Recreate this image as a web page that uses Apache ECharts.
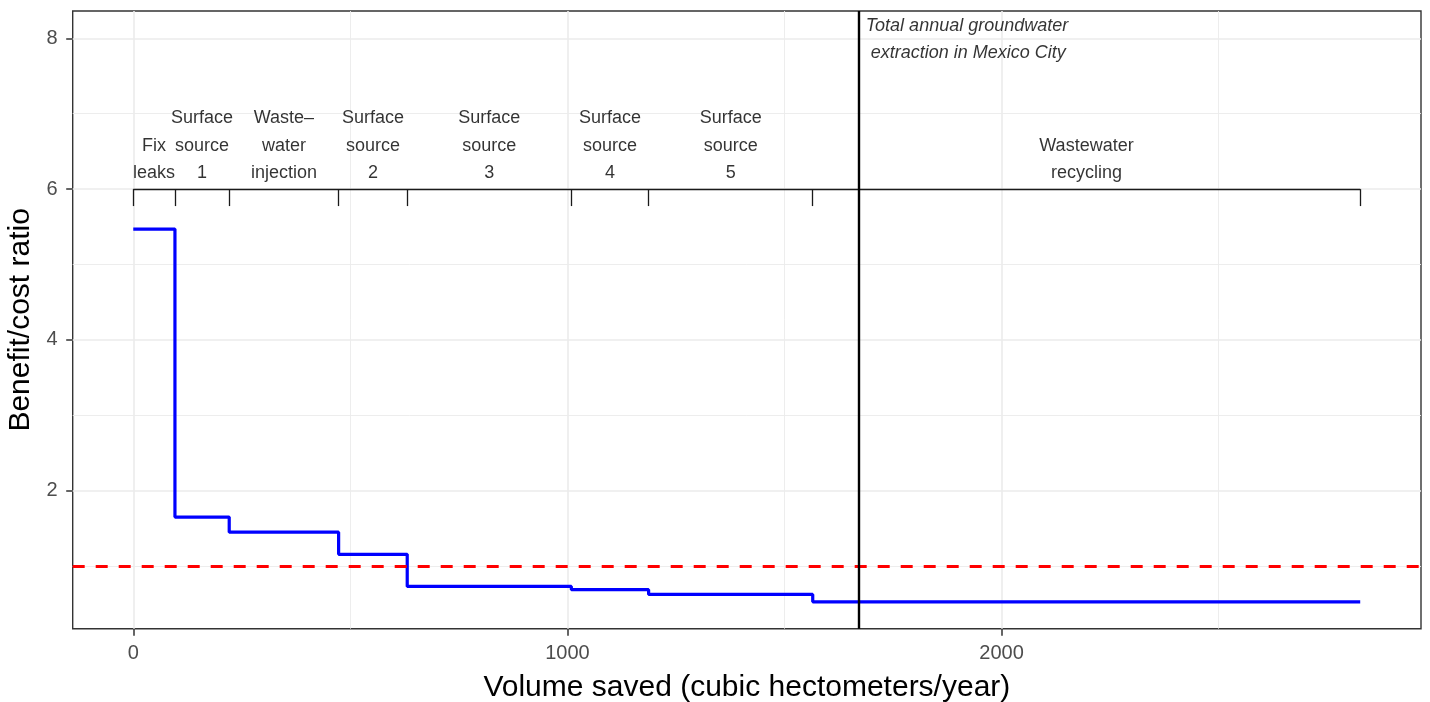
<!DOCTYPE html>
<html>
<head>
<meta charset="utf-8">
<script src="https://cdn.jsdelivr.net/npm/echarts@6/dist/echarts.min.js"></script>
<style>
html,body{margin:0;padding:0;background:#fff;}
#chart{width:1430px;height:702px;}
</style>
</head>
<body>
<div id="chart"></div>
<script>
// ---- data ----
var breaks = [0, 96, 221, 473, 631, 1009, 1187, 1565, 2826];
var ratios = [5.47, 1.65, 1.45, 1.156, 0.73, 0.687, 0.625, 0.527];
var segmentLabels = [
  "Fix\nleaks",
  "Surface\nsource\n1",
  "Waste\u2013\nwater\ninjection",
  "Surface\nsource\n2",
  "Surface\nsource\n3",
  "Surface\nsource\n4",
  "Surface\nsource\n5",
  "Wastewater\nrecycling"
];
var breakEven = 1;
var extractionVolume = 1671;
var extractionLabel = "Total annual groundwater\n extraction in Mexico City";
var bracketLevel = 6;
var bracketTickEnd = 5.775;
var xTicks = [0, 1000, 2000];
var xMinor = [500, 1500, 2500];
var yTicks = [2, 4, 6, 8];
var yMinor = [1, 3, 5, 7];
var xRange = [-139.5, 2966];
var yRange = [0.17, 8.362];

// ---- derived series data ----
var stepData = [];
for (var i = 0; i < ratios.length; i++) stepData.push([breaks[i], ratios[i]]);
stepData.push([breaks[breaks.length - 1], ratios[ratios.length - 1]]);

var labelData = [];
for (var j = 0; j < segmentLabels.length; j++) {
  labelData.push([(breaks[j] + breaks[j + 1]) / 2, bracketLevel, segmentLabels[j]]);
}

var bracketLines = [[{coord: [breaks[0], bracketLevel]}, {coord: [breaks[breaks.length - 1], bracketLevel]}]];
breaks.forEach(function (b) {
  bracketLines.push([{coord: [b, bracketLevel]}, {coord: [b, bracketTickEnd]}]);
});

var FONT = '"Liberation Sans", Arial, Helvetica, sans-serif';
function gridLines(vals, axis, width) {
  return vals.map(function (v) { var o = {}; o[axis] = v; o.lineStyle = {width: width}; return o; });
}

var chart = echarts.init(document.getElementById('chart'), null, {renderer: 'canvas'});
chart.setOption({
  animation: false,
  backgroundColor: '#ffffff',
  grid: {left: 72.7, right: 9, top: 11, bottom: 73.3, show: true, borderColor: '#333333', borderWidth: 1.4,
    backgroundColor: 'transparent', containLabel: false, outerBoundsMode: 'none'},
  xAxis: {
    type: 'value', min: xRange[0], max: xRange[1],
    name: 'Volume saved (cubic hectometers/year)', nameLocation: 'middle', nameGap: 44,
    nameTextStyle: {fontFamily: FONT, fontSize: 30, color: '#000'},
    axisLine: {show: false, onZero: false},
    axisTick: {show: true, length: 7, lineStyle: {color: '#333', width: 1.5}, customValues: xTicks},
    axisLabel: {fontFamily: FONT, fontSize: 20, color: '#4d4d4d', margin: 15, customValues: xTicks,
      formatter: function (v) { return String(v); }},
    splitLine: {show: false}
  },
  yAxis: {
    type: 'value', min: yRange[0], max: yRange[1],
    name: 'Benefit/cost ratio', nameLocation: 'middle', nameGap: 35,
    nameTextStyle: {fontFamily: FONT, fontSize: 30, color: '#000'},
    axisLine: {show: false, onZero: false},
    axisTick: {show: true, length: 6.5, lineStyle: {color: '#333', width: 1.5}, customValues: yTicks},
    axisLabel: {fontFamily: FONT, fontSize: 20, color: '#4d4d4d', margin: 15, customValues: yTicks,
      formatter: function (v) { return String(v); }},
    splitLine: {show: false}
  },
  series: [
    {
      type: 'line', data: [], z: 1, silent: true,
      markLine: {
        z: 1, silent: true, symbol: ['none', 'none'], label: {show: false},
        lineStyle: {color: '#ebebeb', type: 'solid'},
        data: [].concat(gridLines(xMinor, 'xAxis', 0.9), gridLines(yMinor, 'yAxis', 0.9),
                        gridLines(xTicks, 'xAxis', 1.6), gridLines(yTicks, 'yAxis', 1.6))
      }
    },
    {
      type: 'line', data: [], z: 2, silent: true,
      markLine: {
        z: 2, silent: true, symbol: ['none', 'none'], label: {show: false},
        lineStyle: {color: '#1a1a1a', width: 1.3, type: 'solid'},
        data: bracketLines
      }
    },
    {
      type: 'line', step: 'end', data: stepData, z: 3, silent: true,
      showSymbol: false, symbol: 'none',
      lineStyle: {color: '#0000ff', width: 3.2}
    },
    {
      type: 'line', data: [], z: 4, silent: true,
      markLine: {
        z: 4, silent: true, symbol: ['none', 'none'], label: {show: false},
        lineStyle: {color: '#ff0000', width: 3, type: [12, 11]},
        data: [{yAxis: breakEven}]
      }
    },
    {
      type: 'line', data: [], z: 5, silent: true,
      markLine: {
        z: 5, silent: true, symbol: ['none', 'none'], label: {show: false},
        lineStyle: {color: '#000000', width: 2.4, type: 'solid'},
        data: [{xAxis: extractionVolume}]
      }
    },
    {
      type: 'scatter', data: labelData, z: 6, symbolSize: 0, silent: true,
      label: {
        show: true, position: 'top', distance: 2,
        formatter: function (p) { return p.data[2]; },
        fontFamily: FONT, fontSize: 18, lineHeight: 27.5, color: '#000', align: 'center'
      }
    },
    {
      type: 'scatter', data: [[extractionVolume, yRange[1], extractionLabel]], z: 6, symbolSize: 0, silent: true,
      label: {
        show: true, position: [7, 1],
        formatter: function (p) { return p.data[2]; },
        fontFamily: FONT, fontSize: 18, fontStyle: 'italic', lineHeight: 27, color: '#000',
        align: 'left', verticalAlign: 'top'
      }
    }
  ]
});
</script>
</body>
</html>
